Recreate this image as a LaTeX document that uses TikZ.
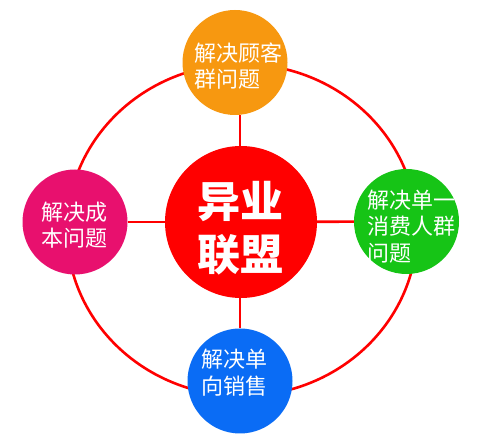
\documentclass[tikz,border=0pt]{standalone}
\usepackage{fontspec}
\setmainfont{Noto Sans CJK SC}
\definecolor{ringred}{RGB}{255,0,0}
\definecolor{corered}{RGB}{255,0,0}
\definecolor{orangec}{RGB}{247,152,16}
\definecolor{pinkc}{RGB}{232,16,110}
\definecolor{greenc}{RGB}{22,196,22}
\definecolor{bluec}{RGB}{10,108,245}
\begin{document}
\begin{tikzpicture}[x=1pt,y=-1pt,
  ball/.style={circle,fill=#1,draw=none,minimum size=105pt,inner sep=0pt},
  lbl/.style={text=white,anchor=west,inner sep=0pt,align=left,font=\fontsize{22}{26.5}\selectfont},
  link/.style={draw=ringred,line width=2.6pt}]
\useasboundingbox (0,0) rectangle (480,435);
\fill[white] (0,0) rectangle (480,435);
\draw[link] (242,230) ellipse [x radius=175pt, y radius=166pt];
\node[circle,fill=corered,minimum size=152pt,inner sep=0pt] (core) at (241,222) {};
\node[ball=orangec] (top) at (235,62.5) {};
\node[ball=pinkc] (left) at (75,222) {};
\node[ball=greenc] (right) at (406.5,221.5) {};
\node[ball=bluec] (bottom) at (240,381) {};
\draw[link] (core.north -| 240,0) -- (240,0 |- top.south);
\draw[link] (core.south -| 240,0) -- (240,0 |- bottom.north);
\draw[link] (left) -- (core);
\draw[link] (core) -- (right);
\node[text=white,inner sep=0pt,align=center,font=\fontsize{43}{53}\selectfont\bfseries] (coretxt) at (240,228) {异业\\联盟};
\node[lbl] (toptxt) at (194,66) {解决顾客\\群问题};
\node[lbl] (lefttxt) at (41,225) {解决成\\本问题};
\node[lbl] (righttxt) at (367,226.5) {解决单一\\消费人群\\问题};
\node[lbl] (bottomtxt) at (201,372.5) {解决单\\向销售};
\end{tikzpicture}
\end{document}
